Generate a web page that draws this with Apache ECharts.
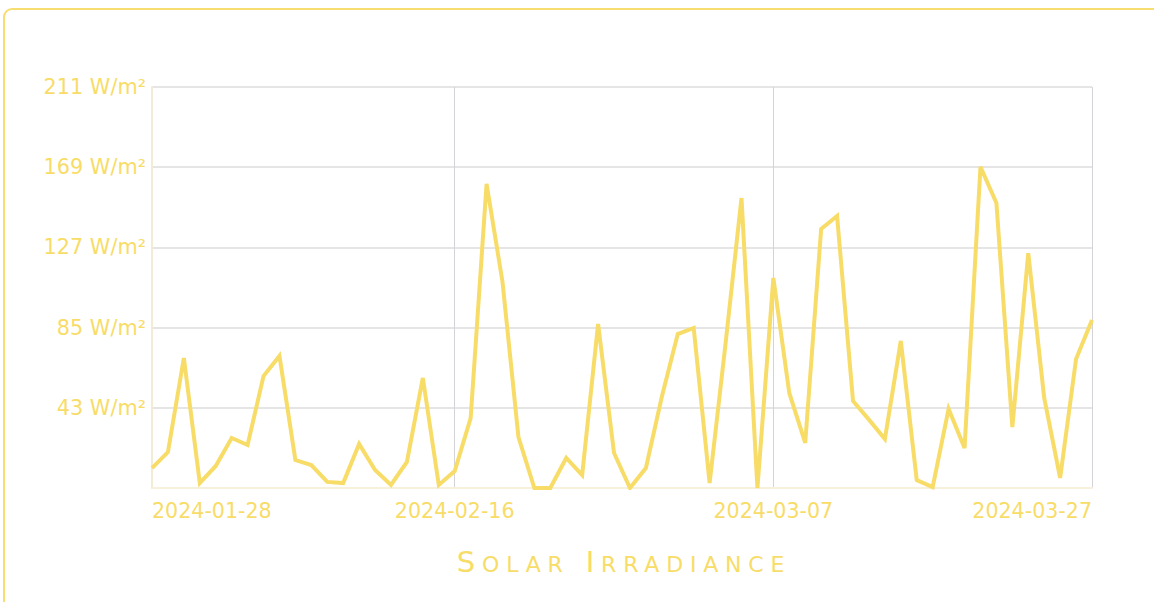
<!DOCTYPE html>
<html>
<head>
<meta charset="utf-8">
<script src="https://cdn.jsdelivr.net/npm/echarts@6/dist/echarts.min.js"></script>
<style>
  html, body { margin: 0; padding: 0; background: #fff; overflow: hidden; }
  #frame { position: absolute; left: 3px; top: 8px; width: 1200px; height: 700px;
           border: 2px solid #f8dd72; border-radius: 9px; box-sizing: border-box; }
  #chart { position: absolute; left: 0; top: 0; width: 1154px; height: 602px; }
</style>
</head>
<body>
<div id="frame"></div>
<div id="chart"></div>
<script>
const categories = [
  '2024-01-28','2024-01-29','2024-01-30','2024-01-31',
  '2024-02-01','2024-02-02','2024-02-03','2024-02-04','2024-02-05','2024-02-06','2024-02-07',
  '2024-02-08','2024-02-09','2024-02-10','2024-02-11','2024-02-12','2024-02-13','2024-02-14',
  '2024-02-15','2024-02-16','2024-02-17','2024-02-18','2024-02-19','2024-02-20','2024-02-21',
  '2024-02-22','2024-02-23','2024-02-24','2024-02-25','2024-02-26','2024-02-27','2024-02-28','2024-02-29',
  '2024-03-01','2024-03-02','2024-03-03','2024-03-04','2024-03-05','2024-03-06','2024-03-07',
  '2024-03-08','2024-03-09','2024-03-10','2024-03-11','2024-03-12','2024-03-13','2024-03-14',
  '2024-03-15','2024-03-16','2024-03-17','2024-03-18','2024-03-19','2024-03-20','2024-03-21',
  '2024-03-22','2024-03-23','2024-03-24','2024-03-25','2024-03-26','2024-03-27'
];
const irradiance = [
  10.5, 18.9, 68.4, 2.6, 11.6, 26.3, 22.6, 58.9, 69.5, 14.7,
  12.1, 3.2, 2.6, 23.2, 9.5, 1.6, 13.7, 57.9, 1.6, 8.9,
  36.8, 160, 108.4, 26.8, 0, 0, 15.8, 6.8, 86.3, 18.4,
  0, 10.5, 48, 81, 84.2, 2.6, 76, 152.6, 0, 110.5,
  50, 23.7, 136.3, 143.1, 45.8, 36, 25.8, 77.4, 4.2, 0.5,
  41.6, 21, 169, 150, 32, 123.6, 47.4, 5.3, 67.9, 88.4
];
const shownDateIndices = [0, 19, 39, 59];
const yMax = 211;
const yStep = 42.2;
const unit = ' W/m²';
const titleText = 'Solar Irradiance';

const yellow = '#f8dc68';
const chart = echarts.init(document.getElementById('chart'), null, { renderer: 'svg' });
chart.setOption({
  animation: false,
  title: {
    text: titleText,
    left: 619,
    top: 543,
    textAlign: 'center',
    textStyle: {
      color: yellow,
      fontSize: 29,
      fontWeight: 'normal',
      fontFamily: 'DejaVu Sans'
    }
  },
  grid: { left: 152, right: 62, top: 87, bottom: 114, containLabel: false },
  xAxis: {
    type: 'category',
    data: categories,
    boundaryGap: false,
    axisLine: { show: true, lineStyle: { color: '#f6f0dc', width: 2 } },
    axisTick: { show: false },
    axisLabel: {
      color: yellow,
      fontSize: 20.6,
      fontFamily: 'DejaVu Sans',
      margin: 12,
      interval: (i) => shownDateIndices.includes(i),
      alignMinLabel: 'left',
      alignMaxLabel: 'right'
    },
    splitLine: {
      show: true,
      interval: (i) => shownDateIndices.includes(i),
      lineStyle: { color: '#d4d4d8', width: 1 }
    }
  },
  yAxis: {
    type: 'value',
    min: 0,
    max: yMax,
    interval: yStep,
    axisLine: { show: true, lineStyle: { color: '#f3ecd4', width: 2 } },
    axisTick: { show: false },
    axisLabel: {
      color: yellow,
      fontSize: 20.8,
      fontFamily: 'DejaVu Sans',
      margin: 6,
      formatter: (v) => v === 0 ? '' : Math.ceil(v - 1e-9) + unit
    },
    splitLine: { show: true, lineStyle: { color: '#dcdcdc', width: 1.5 } }
  },
  series: [{
    type: 'line',
    data: irradiance,
    showSymbol: false,
    symbol: 'none',
    lineStyle: { color: yellow, width: 4, join: 'miter' },
    itemStyle: { color: yellow }
  }]
});

// Render the title in small caps with wide letter spacing (as in the reference).
const titleBaselineY = 572;
function styleTitle() {
  const NS = 'http://www.w3.org/2000/svg';
  document.querySelectorAll('#chart svg text').forEach(function (t) {
    if (t.textContent === titleText && !t.getAttribute('data-sc')) {
      t.setAttribute('data-sc', '1');
      t.style.letterSpacing = '6.8px';
      t.setAttribute('dominant-baseline', 'alphabetic');
      const tr = t.getAttribute('transform');
      if (tr) {
        const m = tr.match(/matrix\(([^)]+)\)/);
        if (m) {
          const p = m[1].split(/[ ,]+/).map(Number);
          p[5] = 0;
          t.setAttribute('transform', 'matrix(' + p.join(',') + ')');
        }
        const m2 = tr.match(/translate\(([^)]+)\)/);
        if (m2) {
          const q = m2[1].split(/[ ,]+/).map(Number);
          t.setAttribute('transform', 'translate(' + q[0] + ',0)');
        }
      }
      t.setAttribute('y', String(titleBaselineY));
      while (t.firstChild) t.removeChild(t.firstChild);
      titleText.split(' ').forEach(function (word, wi) {
        if (wi > 0) {
          const sp = document.createElementNS(NS, 'tspan');
          sp.textContent = ' ';
          t.appendChild(sp);
        }
        const first = document.createElementNS(NS, 'tspan');
        first.textContent = word.charAt(0);
        t.appendChild(first);
        const rest = document.createElementNS(NS, 'tspan');
        rest.textContent = word.slice(1);
        rest.style.fontSize = '22px';
        rest.style.textTransform = 'uppercase';
        t.appendChild(rest);
      });
    }
  });
}
chart.on('finished', styleTitle);
styleTitle();
requestAnimationFrame(styleTitle);
</script>
</body>
</html>
